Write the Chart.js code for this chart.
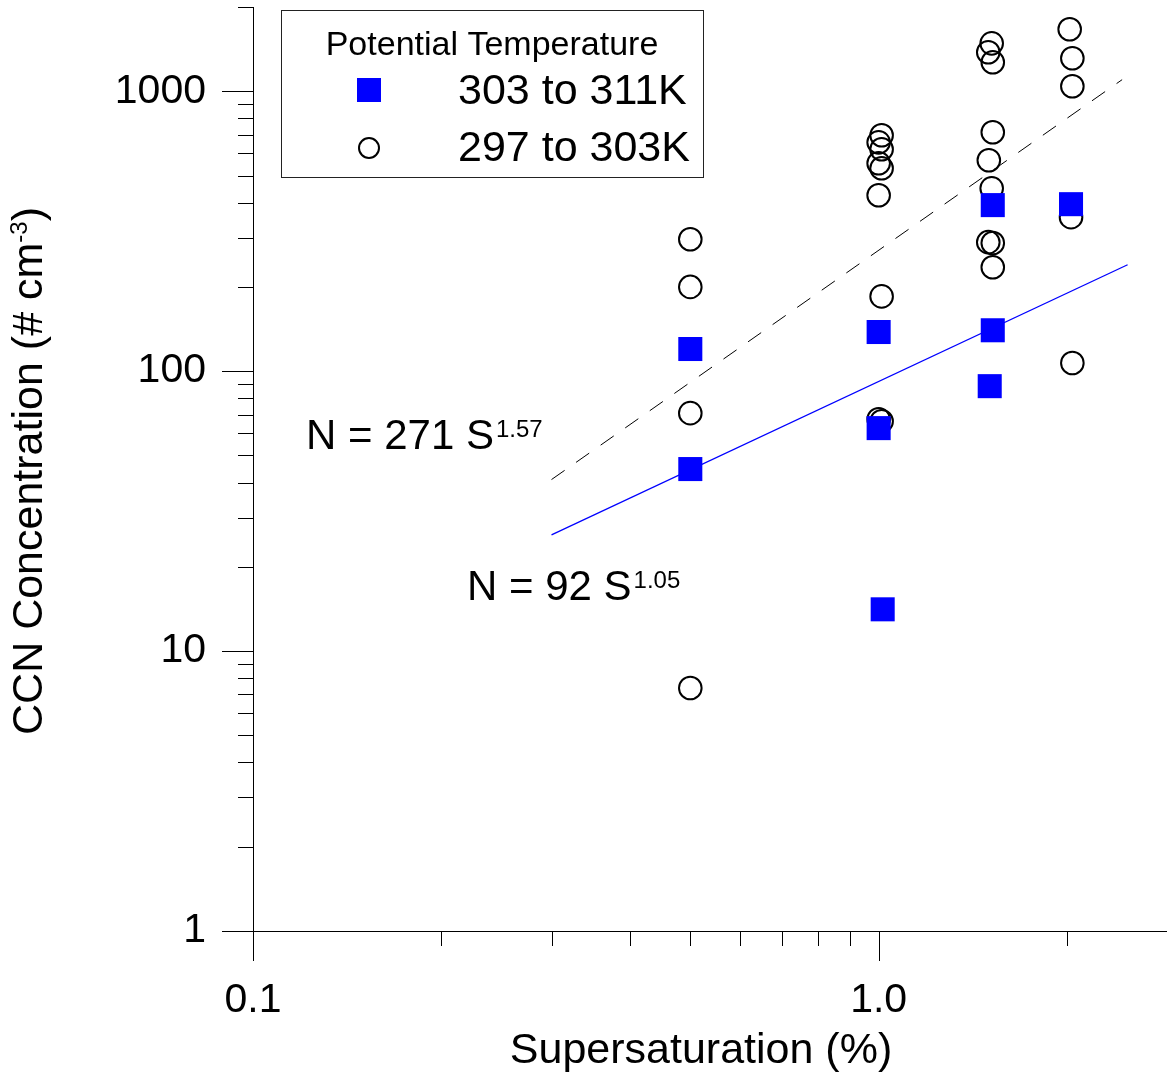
<!DOCTYPE html>
<html lang="en">
<head>
<meta charset="utf-8">
<title>CCN Concentration vs Supersaturation</title>
<script src="https://cdn.jsdelivr.net/npm/chart.js@4.4.1/dist/chart.umd.min.js"></script>
<style>
    html, body { margin: 0; padding: 0; background: #ffffff; }
    #ccnChart { display: block; }
</style>
</head>
<body>
<canvas id="ccnChart" width="1167" height="1072"></canvas>
<script>
// Données (S en %, N en # cm-3)

// Série 303 to 311K (carrés bleus)
const warmX = [0.5, 0.5, 1.0, 1.0, 1.015, 1.522, 1.522, 1.505, 2.03];
const warmY = [120, 44.7, 138, 62.6, 14.1, 392, 140, 88.4, 395];

// Série 297 to 303K (cercles)
const coolX = [0.5, 0.5, 0.5, 0.5,
               1.011, 1.0, 1.011, 1.0, 1.011, 1.0, 1.011, 1.0, 1.011,
               1.516, 1.497, 1.522, 1.522, 1.5, 1.516, 1.497, 1.522, 1.522,
               2.02, 2.04, 2.04, 2.03, 2.04];
const coolY = [296, 200, 70.8, 7.38,
               696, 657, 621, 553, 531, 425, 185, 67.3, 66.2,
               1483, 1378, 1270, 714, 567, 450, 289, 287, 235,
               1665, 1312, 1042, 355, 107];

// Droites d'ajustement (extrémités)
const fitWarmX = [0.3, 2.5];
const fitWarmY = [26, 240];
const fitCoolX = [0.3, 2.45];
const fitCoolY = [41, 1100];

// Graduations
const xTickValues = [0.1, 1];
const xTickLabels = ['0.1', '1.0'];
const yTickValues = [1, 10, 100, 1000];
const yTickLabels = ['1', '10', '100', '1000'];

// Textes
const seriesNames = ['303 to 311K', '297 to 303K'];
const legendTitle = 'Potential Temperature';
const fitTexts = ['N = 271 S', 'N = 92 S'];
const fitExponents = ['1.57', '1.05'];
const xTitle = 'Supersaturation (%)';
const yTitle = 'CCN Concentration (# cm';
const yTitleSup = '-3';

const FONT = "'Liberation Sans', Arial, Helvetica, sans-serif";

function toPoints(xs, ys) {
    return xs.map((x, i) => ({ x: x, y: ys[i] }));
}

// Graduations log (majeures + mineures) et axes
function drawAxes(chart) {
    const ctx = chart.ctx;
    const area = chart.chartArea;
    const xs = chart.scales.x;
    const ys = chart.scales.y;

    ctx.save();
    ctx.strokeStyle = '#000000';
    ctx.lineWidth = 1;
    ctx.beginPath();
    // axe vertical
    ctx.moveTo(area.left + 0.5, area.top);
    ctx.lineTo(area.left + 0.5, area.bottom);
    // axe horizontal
    ctx.moveTo(area.left, area.bottom + 0.5);
    ctx.lineTo(area.right, area.bottom + 0.5);

    for (let d = 1; d <= 1000; d *= 10) {
        for (let m = 1; m <= 9; m++) {
            const v = m * d;
            if (v > ys.max * 1.001) continue;
            const py = Math.round(ys.getPixelForValue(v)) + 0.5;
            const len = m === 1 ? 31 : 15;
            ctx.moveTo(area.left - len, py);
            ctx.lineTo(area.left, py);
        }
    }
    for (let d = 0.1; d <= 1.01; d *= 10) {
        for (let m = 1; m <= 9; m++) {
            const v = m * d;
            if (v > xs.max * 1.001) continue;
            const px = Math.round(xs.getPixelForValue(v)) + 0.5;
            const len = m === 1 ? 30 : 15;
            ctx.moveTo(px, area.bottom);
            ctx.lineTo(px, area.bottom + len);
        }
    }
    ctx.stroke();
    ctx.restore();
}

// Titres des axes (Y avec exposant)
function drawAxisTitles(chart) {
    const ctx = chart.ctx;
    const mainFont = '43px ' + FONT;
    const supFont = '24px ' + FONT;

    ctx.save();
    ctx.fillStyle = '#000000';
    ctx.textBaseline = 'alphabetic';

    // titre X
    ctx.font = mainFont;
    ctx.textAlign = 'center';
    ctx.fillText(xTitle, 701, 1063);

    // titre Y
    ctx.textAlign = 'left';
    const w1 = ctx.measureText(yTitle).width;
    const w3 = ctx.measureText(')').width;
    ctx.font = supFont;
    const w2 = ctx.measureText(yTitleSup).width;
    const total = w1 + w2 + w3;

    ctx.translate(42, 471);
    ctx.rotate(-Math.PI / 2);
    let x = -total / 2;
    ctx.font = mainFont;
    ctx.fillText(yTitle, x, 0);
    x += w1;
    ctx.font = supFont;
    ctx.fillText(yTitleSup, x, -15);
    x += w2;
    ctx.font = mainFont;
    ctx.fillText(')', x, 0);
    ctx.restore();
}

// Équations des ajustements
function drawFitLabels(chart) {
    const ctx = chart.ctx;
    const anchors = [[306, 449], [467, 600]];
    ctx.save();
    ctx.fillStyle = '#000000';
    ctx.textBaseline = 'alphabetic';
    ctx.textAlign = 'left';
    fitTexts.forEach((txt, i) => {
        const ax = anchors[i][0];
        const ay = anchors[i][1];
        ctx.font = '42px ' + FONT;
        ctx.fillText(txt, ax, ay);
        const w = ctx.measureText(txt).width;
        ctx.font = '24px ' + FONT;
        ctx.fillText(fitExponents[i], ax + w + 2, ay - 12);
    });
    ctx.restore();
}

// Légende encadrée
function drawLegendBox(chart) {
    const ctx = chart.ctx;
    ctx.save();
    ctx.fillStyle = '#ffffff';
    ctx.fillRect(281, 10, 423, 168);
    ctx.strokeStyle = '#222222';
    ctx.lineWidth = 1;
    ctx.strokeRect(281.5, 10.5, 422, 167);

    ctx.fillStyle = '#000000';
    ctx.textAlign = 'center';
    ctx.textBaseline = 'alphabetic';
    ctx.font = '34px ' + FONT;
    ctx.fillText(legendTitle, 492, 55);

    // carré bleu
    ctx.fillStyle = '#0000ff';
    ctx.fillRect(357, 78, 24, 24);
    // cercle
    ctx.strokeStyle = '#000000';
    ctx.lineWidth = 2;
    ctx.beginPath();
    ctx.arc(369, 148, 10, 0, Math.PI * 2);
    ctx.stroke();

    ctx.fillStyle = '#000000';
    ctx.textAlign = 'left';
    ctx.font = '43px ' + FONT;
    ctx.fillText(seriesNames[0], 458, 104);
    ctx.fillText(seriesNames[1], 458, 161);
    ctx.restore();
}

const decorPlugin = {
    id: 'decorPlugin',
    afterDraw(chart) {
        drawAxes(chart);
        drawAxisTitles(chart);
        drawFitLabels(chart);
        drawLegendBox(chart);
    }
};

function buildChart() {
    const canvas = document.getElementById('ccnChart');
    const ctx = canvas.getContext('2d');

    const config = {
        type: 'scatter',
        data: {
            datasets: [
                {
                    label: seriesNames[0],
                    data: toPoints(warmX, warmY),
                    pointStyle: 'rect',
                    pointRadius: 17,
                    backgroundColor: '#0000ff',
                    borderColor: '#0000ff',
                    borderWidth: 0,
                    order: 0
                },
                {
                    label: seriesNames[1],
                    data: toPoints(coolX, coolY),
                    pointStyle: 'circle',
                    pointRadius: 11.3,
                    backgroundColor: 'rgba(0,0,0,0)',
                    borderColor: '#000000',
                    borderWidth: 2,
                    order: 1
                },
                {
                    type: 'line',
                    label: 'fit 303 to 311K',
                    data: toPoints(fitWarmX, fitWarmY),
                    borderColor: '#0000ff',
                    borderWidth: 1.3,
                    pointRadius: 0,
                    fill: false,
                    order: 2
                },
                {
                    type: 'line',
                    label: 'fit 297 to 303K',
                    data: toPoints(fitCoolX, fitCoolY),
                    borderColor: '#000000',
                    borderWidth: 1,
                    borderDash: [16, 14],
                    pointRadius: 0,
                    fill: false,
                    order: 3
                }
            ]
        },
        options: {
            responsive: false,
            animation: false,
            devicePixelRatio: 1,
            layout: {
                autoPadding: false,
                padding: { top: 7, right: 0, bottom: 0, left: 0 }
            },
            plugins: {
                legend: { display: false },
                tooltip: { enabled: false }
            },
            scales: {
                x: {
                    type: 'logarithmic',
                    min: 0.1,
                    max: 2.89,
                    bounds: 'data',
                    grid: { display: false, drawTicks: false },
                    border: { display: false },
                    afterBuildTicks: function(scale) {
                        scale.ticks = xTickValues.map(v => ({ value: v }));
                    },
                    afterFit: function(scale) {
                        scale.height = 141;
                        scale.paddingLeft = 0;
                        scale.paddingRight = 0;
                        scale.paddingTop = 0;
                        scale.paddingBottom = 0;
                    },
                    ticks: {
                        autoSkip: false,
                        maxRotation: 0,
                        padding: 45,
                        color: '#000000',
                        font: { family: FONT, size: 41 },
                        callback: function(value) {
                            const i = xTickValues.indexOf(value);
                            return i >= 0 ? xTickLabels[i] : '';
                        }
                    }
                },
                y: {
                    type: 'logarithmic',
                    min: 1,
                    max: 2000,
                    bounds: 'data',
                    grid: { display: false, drawTicks: false },
                    border: { display: false },
                    afterBuildTicks: function(scale) {
                        scale.ticks = yTickValues.map(v => ({ value: v }));
                    },
                    afterFit: function(scale) {
                        scale.width = 253;
                        scale.paddingLeft = 0;
                        scale.paddingRight = 0;
                        scale.paddingTop = 0;
                        scale.paddingBottom = 0;
                    },
                    ticks: {
                        autoSkip: false,
                        padding: 47,
                        color: '#000000',
                        font: { family: FONT, size: 41 },
                        callback: function(value) {
                            const i = yTickValues.indexOf(value);
                            return i >= 0 ? yTickLabels[i] : '';
                        }
                    }
                }
            }
        },
        plugins: [decorPlugin]
    };

    try {
        window.ccnChart = new Chart(ctx, config);
    } catch (error) {
        console.error('Erreur lors de la création du graphique:', error);
    }
}

buildChart();
</script>
</body>
</html>
